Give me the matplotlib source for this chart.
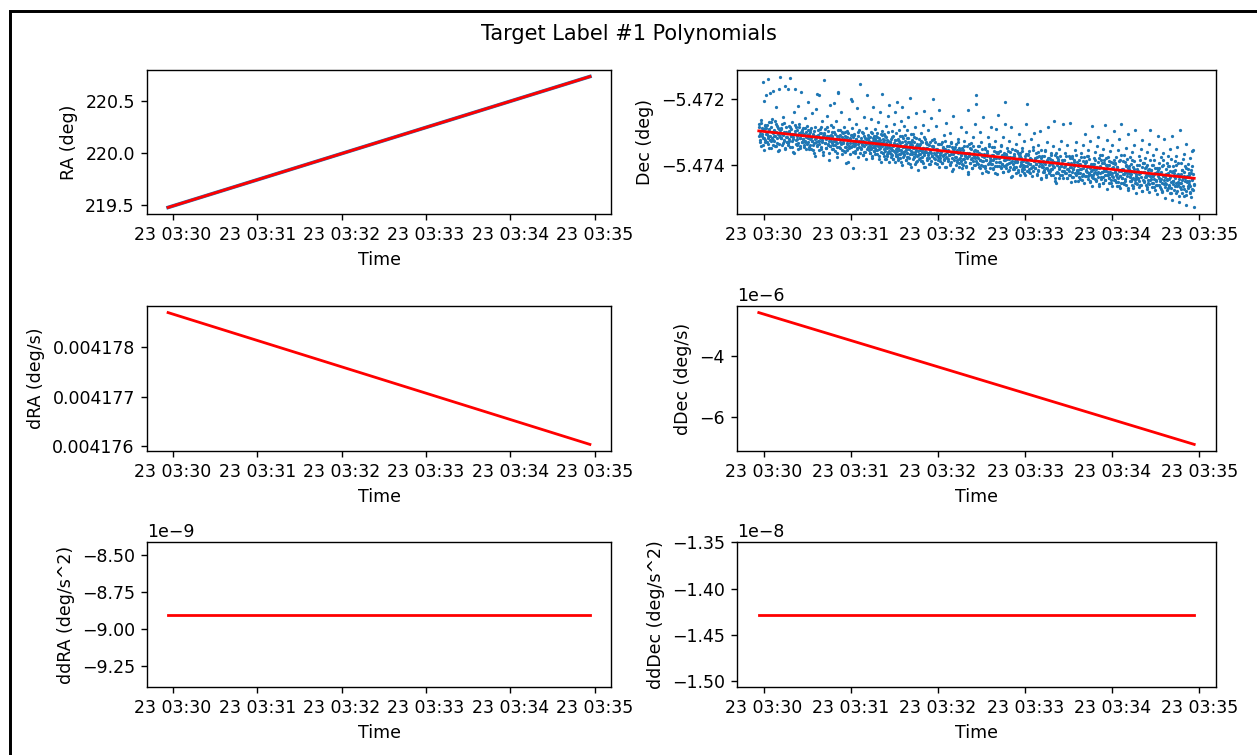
import numpy as np
import matplotlib
matplotlib.use('Agg')
import matplotlib.pyplot as plt
from matplotlib.patches import Rectangle

# fit window
t_start = np.datetime64('2023-05-23T03:29:56.500')
t_span_s = 300

# polynomial curves, value at start and end of the window
ra_fit = [219.478, 220.731]
dec_fit = [-5.47297, -5.47440]
dra_fit = [0.0041787, 0.00417603]
ddec_fit = [-2.61e-6, -6.87e-6]
ddra_fit = [-8.90e-9, -8.90e-9]
dddec_fit = [-1.428e-8, -1.428e-8]

# Dec observations, in 1e-5 deg below -5.47, grouped in 5 s bins
dec_cols = [
    [311, 276, 330, 298, 263, 342, 305, 287, 150, 319, 292, 355, 208, 325, 281, 188],
    [288, 332, 305, 140, 318, 271, 296, 350, 312, 183, 284, 327, 301, 262, 339, 177],
    [327, 295, 312, 268, 344, 226, 301, 319, 283, 358, 307, 172, 336, 290, 315, 133],
    [292, 318, 340, 277, 309, 255, 326, 299, 352, 161, 314, 286, 331, 303, 171],
    [335, 301, 283, 320, 136, 347, 311, 292, 327, 270, 316, 362, 240, 305, 171],
    [298, 325, 286, 341, 312, 223, 333, 304, 277, 318, 350, 181, 308, 329, 293],
    [322, 289, 346, 305, 330, 258, 314, 299, 338, 282, 211, 319, 353, 307],
    [301, 340, 318, 287, 328, 244, 356, 309, 334, 296, 321, 372, 231, 312, 186],
    [344, 310, 293, 326, 189, 337, 302, 319, 351, 284, 330, 267, 313, 361, 142],
    [306, 333, 290, 348, 321, 251, 312, 339, 297, 386, 326, 220, 343, 309, 279],
    [335, 299, 318, 352, 285, 327, 214, 341, 307, 330, 268, 363, 312, 346, 180, 184],
    [311, 347, 294, 329, 338, 241, 316, 355, 303, 333, 286, 320, 361, 299, 394],
    [345, 314, 338, 297, 325, 391, 262, 350, 319, 333, 201, 308, 342, 289, 206, 409],
    [316, 342, 305, 333, 357, 275, 322, 348, 229, 311, 338, 294, 328, 365, 154],
    [349, 318, 336, 299, 371, 327, 256, 344, 312, 360, 333, 287, 322, 352, 188],
    [321, 347, 309, 338, 355, 326, 363, 316, 342, 260, 331, 350, 303, 372, 337, 319, 345, 226, 329, 358, 312, 290],
    [348, 322, 339, 311, 356, 331, 366, 302, 344, 270, 327, 352, 318, 381, 335, 240, 341, 325, 360, 307, 333, 297, 186],
    [343, 320, 365, 329, 352, 305, 374, 339, 312, 357, 334, 383, 283, 348, 324, 368, 253, 361, 299, 346, 390, 218],
    [330, 363, 338, 375, 320, 350, 296, 369, 356, 311, 344, 381, 275, 334, 359, 325, 391, 241, 366, 303, 353, 210],
    [359, 337, 374, 320, 350, 385, 328, 294, 367, 342, 380, 311, 355, 268, 363, 332, 401, 225, 347, 317, 376, 283],
    [344, 371, 327, 359, 310, 384, 350, 336, 375, 294, 364, 319, 393, 256, 353, 332, 379, 340, 367, 197, 406, 306],
    [359, 324, 368, 341, 383, 307, 350, 375, 332, 396, 285, 362, 317, 354, 243, 388, 336, 371, 345, 414],
    [342, 367, 321, 380, 336, 354, 304, 389, 361, 329, 376, 279, 348, 395, 238, 370, 314, 358, 405, 333],
    [361, 332, 386, 349, 370, 293, 379, 340, 355, 397, 258, 365, 323, 374, 200],
    [346, 379, 320, 366, 395, 353, 283, 373, 360, 337, 386, 407, 235, 369],
    [378, 361, 332, 395, 347, 372, 310, 386, 353, 367, 273, 405, 380, 342],
    [357, 389, 343, 370, 304, 396, 366, 329, 379, 418, 252, 352, 385, 361],
    [375, 338, 401, 355, 385, 364, 320, 393, 348, 378, 284, 370, 410],
    [350, 383, 399, 363, 327, 390, 372, 300, 407, 343, 377, 428, 235, 369],
    [373, 348, 394, 334, 382, 366, 408, 315, 388, 358, 400, 275, 378, 190, 215],
    [393, 358, 378, 342, 405, 365, 385, 299, 399, 329, 372, 424, 254, 388],
    [366, 403, 350, 385, 417, 358, 373, 314, 394, 337, 409, 380, 284],
    [384, 346, 397, 371, 409, 358, 379, 328, 424, 292, 391, 364, 402, 249],
    [379, 403, 357, 391, 340, 409, 369, 396, 314, 420, 365, 384, 277, 209],
    [367, 400, 383, 348, 417, 377, 394, 327, 407, 360, 437, 284, 388, 412],
    [398, 374, 411, 356, 387, 337, 405, 392, 365, 421, 307, 380, 430],
    [364, 397, 379, 418, 348, 406, 387, 327, 413, 373, 429, 276, 392, 402, 215],
    [393, 370, 412, 357, 398, 425, 383, 320, 405, 345, 419, 387, 302],
    [380, 408, 365, 397, 431, 375, 416, 339, 391, 404, 298, 442, 355, 399],
    [405, 387, 422, 372, 414, 354, 397, 431, 331, 408, 380, 286, 418],
    [379, 418, 395, 363, 429, 386, 411, 343, 403, 267, 440, 371, 423, 455],
    [400, 375, 424, 387, 411, 353, 431, 404, 328, 417, 394, 440, 276],
    [417, 386, 404, 364, 425, 397, 439, 341, 411, 373, 430, 272, 407, 450],
    [395, 422, 373, 411, 437, 385, 403, 355, 429, 330, 416, 390, 448],
    [415, 385, 436, 397, 423, 364, 411, 446, 341, 428, 377, 404, 305, 433],
    [414, 391, 432, 372, 421, 402, 443, 354, 426, 383, 409, 450, 327, 417, 397, 436, 281, 463],
    [397, 430, 379, 413, 442, 362, 421, 405, 447, 343, 426, 390, 435, 315, 409, 457, 371],
    [425, 403, 441, 386, 420, 370, 435, 454, 352, 413, 395, 430, 280, 446, 379, 417, 325, 472],
    [409, 430, 377, 440, 400, 454, 357, 420, 445, 392, 425, 340, 463, 406, 436, 296, 385],
    [421, 396, 444, 377, 429, 462, 406, 436, 355, 450, 388, 417, 320, 470, 432, 370, 454, 275],
    [439, 412, 454, 388, 428, 369, 443, 420, 401, 461, 349, 432, 381, 474, 307, 425],
    [411, 435, 377, 449, 398, 426, 460, 362, 443, 406, 469, 339, 420, 387, 454, 293, 438, 485],
    [433, 399, 456, 418, 441, 372, 449, 467, 386, 424, 352, 460, 407, 477, 324, 445, 394],
    [422, 449, 394, 437, 378, 460, 429, 407, 472, 362, 444, 414, 455, 336, 482, 386, 433, 294],
    [443, 414, 466, 400, 434, 371, 455, 427, 386, 475, 408, 448, 351, 461, 421, 488, 313],
    [414, 438, 394, 461, 425, 449, 377, 472, 443, 404, 481, 363, 432, 385, 456, 322, 499, 467],
    [435, 411, 458, 393, 446, 476, 423, 373, 464, 404, 441, 484, 351, 452, 383, 469, 311, 505],
    [447, 403, 458, 424, 474, 387, 440, 415, 485, 372, 464, 431, 346, 452, 394, 494, 512, 294],
    [430, 455, 394, 471, 414, 444, 483, 381, 462, 422, 492, 366, 438, 403, 477, 336, 521, 450],
    [448, 413, 470, 398, 456, 430, 483, 378, 463, 423, 496, 358, 441, 403, 476, 354, 528, 458],
]
# more Dec observations in the dense band, same bins and units
dec_cols_b = [
    [286, 306, 325, 273, 313, 339, 295, 318, 280, 331],
    [305, 280, 336, 312, 292, 324, 348, 270, 317, 302],
    [325, 298, 313, 342, 276, 333, 289, 309, 355, 294],
    [288, 319, 305, 334, 272, 324, 349, 299, 330, 314],
    [339, 298, 326, 286, 312, 345, 306, 321, 363, 280],
    [306, 336, 295, 321, 353, 286, 317, 344, 299, 331],
    [300, 320, 339, 287, 327, 353, 309, 332, 294, 345],
    [320, 295, 351, 327, 307, 339, 363, 285, 332, 317],
    [339, 312, 327, 356, 290, 347, 303, 323, 369, 308],
    [302, 333, 319, 348, 286, 338, 363, 313, 344, 328],
    [353, 312, 340, 300, 326, 359, 320, 335, 377, 294],
    [320, 350, 309, 335, 367, 300, 331, 358, 313, 345],
    [315, 335, 354, 302, 342, 368, 324, 347, 309, 360],
    [334, 309, 365, 341, 321, 353, 377, 299, 346, 331],
    [353, 326, 341, 370, 304, 361, 317, 337, 383, 322],
    [317, 348, 334, 363, 301, 353, 378, 328, 359, 343],
    [367, 326, 354, 314, 340, 373, 334, 349, 391, 308],
    [334, 364, 323, 349, 381, 314, 345, 372, 327, 359],
    [329, 349, 368, 316, 356, 382, 338, 361, 323, 374],
    [348, 323, 379, 355, 335, 367, 391, 313, 360, 345],
    [368, 341, 356, 385, 319, 376, 332, 352, 398, 337],
    [331, 362, 348, 377, 315, 367, 392, 342, 373, 357],
    [381, 340, 368, 328, 354, 387, 348, 363, 405, 322],
    [349, 379, 338, 364, 396, 329, 360, 387, 342, 374],
    [343, 363, 382, 330, 370, 396, 352, 375, 337, 388],
    [363, 338, 394, 370, 350, 382, 406, 328, 375, 360],
    [382, 355, 370, 399, 333, 390, 346, 366, 412, 351],
    [345, 376, 362, 391, 329, 381, 406, 356, 387, 371],
    [396, 355, 383, 343, 369, 402, 363, 378, 420, 337],
    [363, 393, 352, 378, 410, 343, 374, 401, 356, 388],
    [357, 377, 396, 344, 384, 410, 366, 389, 351, 402],
    [377, 352, 408, 384, 364, 396, 420, 342, 389, 374],
    [396, 369, 384, 413, 347, 404, 360, 380, 426, 365],
    [360, 391, 377, 406, 344, 396, 421, 371, 402, 386],
    [410, 369, 397, 357, 383, 416, 377, 392, 434, 351],
    [377, 407, 366, 392, 424, 357, 388, 415, 370, 402],
    [372, 392, 411, 359, 399, 425, 381, 404, 366, 417],
    [391, 366, 422, 398, 378, 410, 434, 356, 403, 388],
    [410, 383, 398, 427, 361, 418, 374, 394, 440, 379],
    [374, 405, 391, 420, 358, 410, 435, 385, 416, 400],
    [424, 383, 411, 371, 397, 430, 391, 406, 448, 365],
    [392, 422, 381, 407, 439, 372, 403, 430, 385, 417],
    [386, 406, 425, 373, 413, 439, 395, 418, 380, 431],
    [405, 380, 436, 412, 392, 424, 448, 370, 417, 402],
    [425, 398, 413, 442, 376, 433, 389, 409, 455, 394],
    [388, 419, 405, 434, 372, 424, 449, 399, 430, 414],
    [438, 397, 425, 385, 411, 444, 405, 420, 462, 379],
    [406, 436, 395, 421, 453, 386, 417, 444, 399, 431],
    [400, 420, 439, 387, 427, 453, 409, 432, 394, 445],
    [420, 395, 451, 427, 407, 439, 463, 385, 432, 417],
    [439, 412, 427, 456, 390, 447, 403, 423, 469, 408],
    [402, 433, 419, 448, 386, 438, 463, 413, 444, 428],
    [453, 412, 440, 400, 426, 459, 420, 435, 477, 394],
    [420, 450, 409, 435, 467, 400, 431, 458, 413, 445],
    [414, 434, 453, 401, 441, 467, 423, 446, 408, 459],
    [434, 409, 465, 441, 421, 453, 477, 399, 446, 431],
    [453, 426, 441, 470, 404, 461, 417, 437, 483, 422],
    [417, 448, 434, 463, 401, 453, 478, 428, 459, 443],
    [467, 426, 454, 414, 440, 473, 434, 449, 491, 408],
    [434, 464, 423, 449, 481, 414, 445, 472, 427, 459],
]
bin_s = 5

# observation times: spread each bin's points over its 5 s
obs_t = []
obs_dec = []
for cols, shift in [(dec_cols, 0.5), (dec_cols_b, 0.25)]:
    for i, col in enumerate(cols):
        n = len(col)
        for k, v in enumerate(col):
            ms = int(round((i * bin_s + bin_s * (k + shift) / n) * 1000))
            obs_t.append(t_start + np.timedelta64(ms, 'ms'))
            obs_dec.append(-5.47 - v * 1e-5)
obs_t = np.array(obs_t)
obs_dec = np.array(obs_dec)

line_t = np.array([t_start, t_start + np.timedelta64(t_span_s, 's')])

DPI = 125
W, H = 1257, 755
fig = plt.figure(figsize=(W / DPI, H / DPI), dpi=DPI)

def box(x0, x1, y0, y1):
    return [x0 / W, 1 - y1 / H, (x1 - x0) / W, (y1 - y0) / H]

lx, rx = (147, 611), (737, 1216)
rows = [(70, 214), (306, 451), (542, 687)]

ax1 = fig.add_axes(box(*lx, *rows[0]))
ax1.plot(line_t, ra_fit, color='#1f77b4', lw=2.1)
ax1.plot(line_t, ra_fit, 'r', lw=1.6)
ax1.set_ylabel('RA (deg)')
ax1.set_xlabel('Time')

ax2 = fig.add_axes(box(*rx, *rows[0]))
ax2.scatter(obs_t, obs_dec, s=3.5, color='#1f77b4', linewidths=0)
ax2.plot(line_t, dec_fit, 'r', lw=1.6)
ax2.set_ylabel('Dec (deg)')
ax2.set_xlabel('Time')

ax3 = fig.add_axes(box(*lx, *rows[1]))
ax3.plot(line_t, dra_fit, 'r', lw=1.6)
ax3.set_ylabel('dRA (deg/s)')
ax3.set_xlabel('Time')

ax4 = fig.add_axes(box(*rx, *rows[1]))
ax4.plot(line_t, ddec_fit, 'r', lw=1.6)
ax4.set_ylabel('dDec (deg/s)')
ax4.set_xlabel('Time')

ax5 = fig.add_axes(box(*lx, *rows[2]))
ax5.plot(line_t, ddra_fit, 'r', lw=1.6)
ax5.set_ylabel('ddRA (deg/s^2)')
ax5.set_xlabel('Time')

ax6 = fig.add_axes(box(*rx, *rows[2]))
ax6.plot(line_t, dddec_fit, 'r', lw=1.6)
ax6.set_ylabel('ddDec (deg/s^2)')
ax6.set_xlabel('Time')

fig.suptitle('Target Label #1 Polynomials', y=1 - 34 / H, va='center')

# frame of the window around the figure
fig.patches.append(Rectangle((9.5 / W, -0.5), 2, 1.5 - 10.5 / H, transform=fig.transFigure,
                             fill=False, lw=1.7, edgecolor='black', clip_on=False))

fig.savefig('out.png', dpi=DPI)
